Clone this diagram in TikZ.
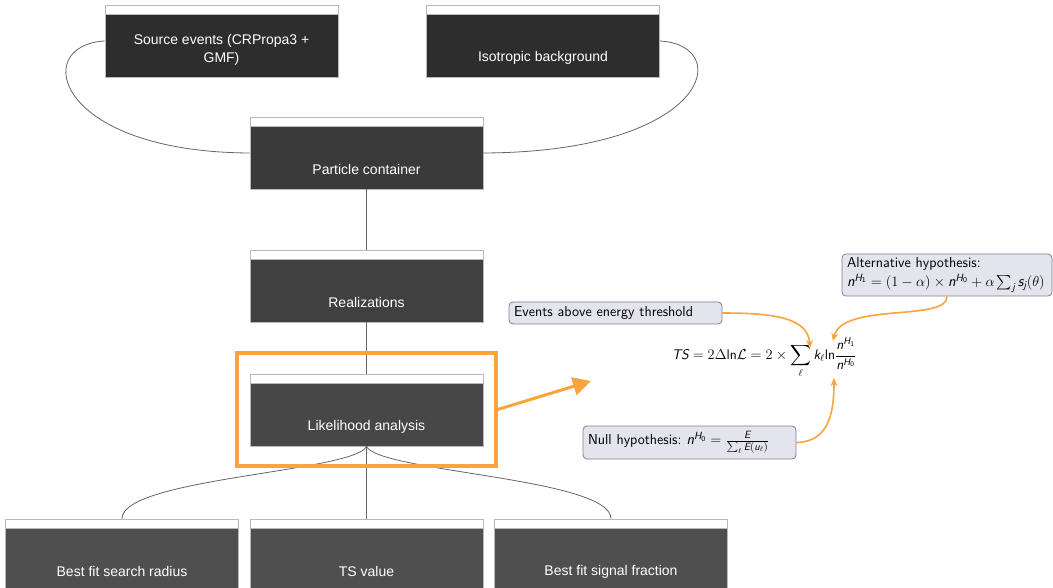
\documentclass[tikz,border=0pt]{standalone}
\usepackage{amsmath}
\usepackage{fontspec}
\newfontfamily\boxfont{Liberation Sans}
\usetikzlibrary{arrows.meta}
\newcommand\mv[1]{\text{\sffamily\itshape #1}}
\newcommand\mt[1]{\text{\sffamily #1}}
\definecolor{orng}{HTML}{F9A43C}
\definecolor{cA}{HTML}{2D2D2D}
\definecolor{cB}{HTML}{3A3A3A}
\definecolor{cC}{HTML}{404040}
\definecolor{cD}{HTML}{474747}
\definecolor{cE}{HTML}{4F4F4F}
\definecolor{annfill}{HTML}{E4E4EC}
\definecolor{annline}{HTML}{7E7E96}
\definecolor{conn}{HTML}{666666}
\tikzset{
  procbox/.style={draw=gray!55, line width=0.6pt, fill=#1, minimum width=233pt,
    minimum height=72pt, inner sep=0pt,
    path picture={\fill[white] (path picture bounding box.north west) rectangle ([yshift=-9pt]path picture bounding box.north east);
      \draw[gray!55, line width=0.6pt] ([yshift=-9pt]path picture bounding box.north west) -- ([yshift=-9pt]path picture bounding box.north east);}},
  boxtxt/.style={text=white, font=\boxfont\fontsize{14}{18}\selectfont, align=center, yshift=-16.5pt},
  boxtxttwo/.style={text=white, font=\boxfont\fontsize{14}{18}\selectfont, align=center, yshift=-9pt},
  conn/.style={draw=conn, line width=0.8pt},
  ann/.style={draw=annline, fill=annfill, line width=0.8pt, rounded corners=4pt,
    font=\sffamily\fontsize{14.4}{18}\selectfont, align=left, inner xsep=5pt, inner ysep=1pt},
  orarrow/.style={draw=orng, line width=1.6pt, -{Stealth[length=8pt,width=7pt]}},
}
\begin{document}
\begin{tikzpicture}[x=1pt,y=-1pt]
\clip (0,0) rectangle (1053,588);
\fill[white] (0,0) rectangle (1053,588);

% process boxes
\node[procbox=cA, label={[boxtxttwo]center:{Source events (CRPropa3 +\\GMF)}}] (src) at (221.5,41) {};
\node[procbox=cA, label={[boxtxt]center:Isotropic background}] (iso) at (543,41) {};
\node[procbox=cB, label={[boxtxt]center:Particle container}] (pc) at (366.5,153) {};
\node[procbox=cC, label={[boxtxt]center:Realizations}] (real) at (366.5,286) {};
\node[procbox=cD, label={[boxtxt]center:Likelihood analysis}] (like) at (366.5,410) {};
\node[procbox=cE, label={[boxtxt]center:Best fit search radius}] (bfr) at (122,555) {};
\node[procbox=cE, label={[boxtxt]center:TS value}] (tsv) at (366.5,555) {};
\node[procbox=cE, label={[boxtxt]center:Best fit signal fraction}] (bfs) at (611,555) {};

% connectors
\draw[conn] (src.west) .. controls (30,45) and (55,152) .. (pc.west);
\draw[conn] (iso.east) .. controls (735,45) and (710,152) .. (pc.east);
\draw[conn] (pc.south) -- (real.north);
\draw[conn] (real.south) -- (like.north);
\draw[conn] (like.south) -- (tsv.north);
\draw[conn] (like.south) .. controls (355,472) and (122,478) .. (bfr.north);
\draw[conn] (like.south) .. controls (378,472) and (611,478) .. (bfs.north);

% highlight
\node[draw=orng, line width=3.5pt, minimum width=259pt, minimum height=113pt, inner sep=0pt] (hl) at (366.5,409.5) {};
\coordinate (tip) at (591,381);
\draw[draw=orng, line width=3pt, -{Triangle[length=18pt,width=18pt]}] (hl.east) -- (tip);

% formula and annotations
\node[font=\sffamily\fontsize{14}{17}\selectfont, inner sep=0pt] (ts) at (764,358)
  {$\displaystyle \mv{TS} = 2\Delta\mt{ln}\mathcal{L} = 2\times\sum_{\ell} \mv{k}_\ell\mt{ln}\frac{\mv{n}^{\mv{H}_{\mt{1}}}}{\mv{n}^{\mv{H}_{\mt{0}}}}$};
\node[ann, text width=203pt, minimum height=22pt] (evt) at (615.5,313) {Events above energy threshold};
\node[ann, text width=200pt, minimum height=42pt] (alt) at (947,275)
  {Alternative hypothesis:\\[1pt] {\fontsize{15}{17}\selectfont$\mv{n}^{\mv{H}_{\mt{1}}} = (1-\alpha)\times \mv{n}^{\mv{H}_{\mt{0}}} + \alpha\sum_{\mv{j}} \mv{s}_{\mv{j}}(\theta)$}};
\node[ann, text width=203pt, minimum height=33pt] (nul) at (689.5,442.5)
  {Null hypothesis:\hspace{5pt}{\fontsize{15}{17}\selectfont$\mv{n}^{\mv{H}_{\mt{0}}} = \frac{\mv{E}}{\sum_\ell \mv{E}(\mv{u}_\ell)}$}};

\coordinate (t1) at (810,348);
\coordinate (t2) at (833,341);
\coordinate (t3) at (834,378);
\draw[orarrow] (evt.east) .. controls (775,313) and (808,318) .. (t1);
\draw[orarrow] (alt.south) .. controls (948,322) and (842,302) .. (t2);
\draw[orarrow] (nul.east) .. controls (830,442) and (834,410) .. (t3);
\end{tikzpicture}
\end{document}
